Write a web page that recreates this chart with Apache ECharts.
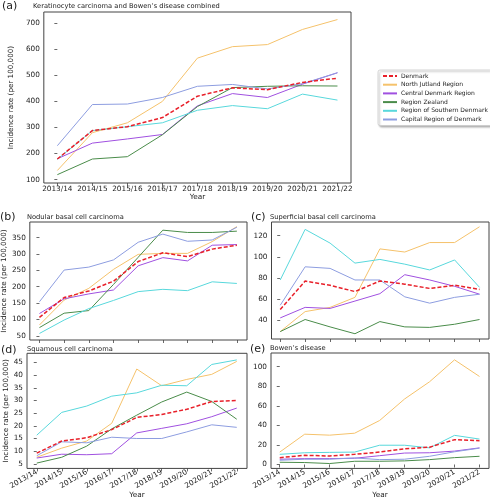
<!DOCTYPE html>
<html><head><meta charset="utf-8">
<script src="https://cdn.jsdelivr.net/npm/echarts@6/dist/echarts.min.js"></script>
<style>html,body{margin:0;padding:0;background:#fff}#c{width:490px;height:500px}</style>
</head><body><div id="c"></div>
<script>
const years = ['2013/14','2014/15','2015/16','2016/17','2017/18','2018/19','2019/20','2020/21','2021/22'];
const regions = ['Denmark','North Jutland Region','Central Denmark Region','Region Zealand','Region of Southern Denmark','Capital Region of Denmark'];
const panelTitles = ['Keratinocyte carcinoma and Bowen\u2019s disease combined','Nodular basal cell carcinoma','Superficial basal cell carcinoma','Squamous cell carcinoma','Bowen\u2019s disease'];
const panelLetters = ['(a)','(b)','(c)','(d)','(e)'];

// (a) Keratinocyte carcinoma and Bowen's disease combined
const aDenmark  = [179, 288, 303, 338, 420, 452, 445, 473, 489];
const aNorth    = [135, 280, 318, 400, 566, 610, 618, 676, 714];
const aCentral  = [180, 240, 256, 273, 383, 430, 415, 466, 510];
const aZealand  = [119, 179, 188, 272, 380, 453, 458, 460, 459];
const aSouthern = [178, 288, 303, 318, 366, 384, 372, 428, 405];
const aCapital  = [230, 388, 390, 415, 458, 465, 448, 468, 510];
const aTicks = [100, 200, 300, 400, 500, 600, 700];

// (b) Nodular basal cell carcinoma
const bDenmark  = [106, 167, 187, 217, 277, 304, 292, 315, 327];
const bNorth    = [83, 159, 195, 253, 299, 302, 302, 338, 384];
const bCentral  = [118, 163, 178, 190, 264, 289, 279, 327, 329];
const bZealand  = [75, 119, 127, 207, 290, 373, 366, 366, 370];
const bSouthern = [57, 98, 133, 158, 185, 192, 188, 215, 210];
const bCapital  = [154, 251, 260, 282, 336, 361, 339, 343, 382];
const bTicks = [50, 100, 150, 200, 250, 300, 350];

// (c) Superficial basal cell carcinoma
const cDenmark  = [50, 77, 73, 67, 77, 74, 70, 73, 69];
const cNorth    = [29, 48, 52, 61.5, 107.5, 104.5, 113.5, 113.5, 128.5];
const cCentral  = [42, 52, 51, 58, 65, 83, 78, 72, 64.5];
const cZealand  = [29, 40.5, 33.5, 27, 38.5, 33.5, 33, 36, 40.5];
const cSouthern = [78, 126, 113, 94, 97.5, 93, 87.5, 97, 71];
const cCapital  = [54, 90.5, 89, 78, 78, 62, 56, 61.5, 64.5];
const cTicks = [40, 60, 80, 100, 120];

// (d) Squamous cell carcinoma
const dDenmark  = [9.2, 14, 15.3, 18.5, 23.3, 24.5, 26.5, 29.6, 30];
const dNorth    = [7.6, 11.2, 14, 21, 42.4, 35.8, 38.3, 40.3, 45.4];
const dCentral  = [7.3, 8.8, 8.6, 9, 17.2, 19, 20.8, 23.6, 27];
const dZealand  = [5.3, 7.6, 12, 18.8, 24.2, 29.4, 33.3, 29.6, 22.6];
const dSouthern = [16.3, 25.3, 27.8, 31.7, 33, 36, 35.8, 44.2, 46];
const dCapital  = [8.2, 13.7, 13.3, 15.5, 15, 15, 17.6, 20.4, 19.4];
const dTicks = [5, 10, 15, 20, 25, 30, 35, 40, 45];

// (e) Bowen's disease
const eDenmark  = [7, 9.4, 8.7, 10.4, 12.7, 16, 17.7, 25.4, 24.4];
const eNorth    = [12.7, 31, 30, 32, 45, 67, 84.6, 107, 90];
const eCentral  = [5.4, 6, 6, 6.4, 9, 11.7, 12, 13.7, 17];
const eZealand  = [2.3, 2, 1, 3.3, 3.3, 3.7, 5, 7, 8.4];
const eSouthern = [10.4, 12, 12.4, 12.7, 19.7, 19.7, 17, 29.8, 26];
const eCapital  = [4.3, 5.4, 5.4, 6.7, 5, 5.4, 8.4, 13, 16.7];
const eTicks = [0, 20, 40, 60, 80, 100];

const panelData = [
  [aDenmark, aNorth, aCentral, aZealand, aSouthern, aCapital],
  [bDenmark, bNorth, bCentral, bZealand, bSouthern, bCapital],
  [cDenmark, cNorth, cCentral, cZealand, cSouthern, cCapital],
  [dDenmark, dNorth, dCentral, dZealand, dSouthern, dCapital],
  [eDenmark, eNorth, eCentral, eZealand, eSouthern, eCapital]
];
const panelTicks = [aTicks, bTicks, cTicks, dTicks, eTicks];

const colors = ['#e8202a', '#f5c26b', '#a050e0', '#4a8c4a', '#58d8dc', '#8d9de0'];
const FONT = 'DejaVu Sans';
const AX = '#444';

// layout of each panel
const layout = [
  {left: 33, top: 12, width: 318, height: 171, xMin: -0.386, xMax: 8.386, yMin: 87, yMax: 743, xLabels: 'flat', yName: true, xName: 10, yGap: 19, letter: [2, 1], title: [33, 2.5]},
  {left: 27, top: 222, width: 220, height: 118, xMin: -0.39, xMax: 8.41, yMin: 37, yMax: 398, xLabels: 'none', yName: true, xName: 0, yGap: 17, letter: [0, 212], title: [27, 214]},
  {left: 271.5, top: 222, width: 217.5, height: 117, xMin: -0.35, xMax: 8.38, yMin: 22, yMax: 133, xLabels: 'none', yName: false, xName: 0, yGap: 0, letter: [251, 212], title: [270, 214]},
  {left: 27, top: 353.3, width: 220, height: 118.2, xMin: -0.39, xMax: 8.41, yMin: 3.2, yMax: 48.6, xLabels: 'rot', yName: true, xName: 22, yGap: 17, letter: [1, 344.5], title: [27, 345.5]},
  {left: 271, top: 353, width: 218, height: 118, xMin: -0.35, xMax: 8.38, yMin: -4, yMax: 114, xLabels: 'rot', yName: false, xName: 22, yGap: 0, letter: [250, 343.5], title: [270, 345]}
];

const idx = years.map((y, i) => i);
const grids = [], xAxes = [], yAxes = [], series = [], titles = [];
layout.forEach((L, p) => {
  grids.push({left: L.left, top: L.top, width: L.width, height: L.height, show: true,
    borderColor: AX, borderWidth: 1, backgroundColor: 'transparent', containLabel: false});
  xAxes.push({
    type: 'value', gridIndex: p, min: L.xMin, max: L.xMax,
    name: L.xName ? 'Year' : '', nameLocation: 'middle', nameGap: L.xName,
    nameTextStyle: {fontFamily: FONT, fontSize: 7.3, color: '#222'},
    axisLine: {show: false}, splitLine: {show: false},
    axisTick: {show: true, length: 3, lineStyle: {color: AX, width: 0.8}, customValues: idx},
    axisLabel: {
      show: L.xLabels !== 'none', customValues: idx,
      formatter: v => years[Math.round(v)] || '',
      rotate: L.xLabels === 'rot' ? 30 : 0, margin: 3,
      fontFamily: FONT, fontSize: 7.3, color: '#222'
    }
  });
  yAxes.push({
    type: 'value', gridIndex: p, min: L.yMin, max: L.yMax,
    name: L.yName ? 'Incidence rate (per 100,000)' : '', nameLocation: 'middle', nameGap: L.yGap,
    nameTextStyle: {fontFamily: FONT, fontSize: 7.2, color: '#222'},
    axisLine: {show: false}, splitLine: {show: false},
    axisTick: {show: true, length: 3, lineStyle: {color: AX, width: 0.8}, customValues: panelTicks[p]},
    axisLabel: {customValues: panelTicks[p], margin: 4, fontFamily: FONT, fontSize: 7.3, color: '#222'}
  });
  panelData[p].forEach((vals, r) => {
    series.push({
      type: 'line', name: regions[r], xAxisIndex: p, yAxisIndex: p,
      data: vals.map((v, i) => [i, v]),
      symbol: 'none', showSymbol: false, silent: true,
      z: r === 0 ? 5 : 2,
      lineStyle: {color: colors[r], width: r === 0 ? 1.5 : 1, type: r === 0 ? [4, 2] : 'solid'},
      itemStyle: {color: colors[r]}
    });
  });
  titles.push({text: panelLetters[p], left: L.letter[0], top: L.letter[1], padding: 0,
    textStyle: {fontFamily: FONT, fontSize: 11, fontWeight: 'normal', color: '#222'}});
  titles.push({text: panelTitles[p], left: L.title[0], top: L.title[1], padding: 0,
    textStyle: {fontFamily: FONT, fontSize: 6.7, fontWeight: 'normal', color: '#222'}});
});

const chart = echarts.init(document.getElementById('c'), null, {renderer: 'canvas'});
chart.setOption({
  animation: false,
  title: titles,
  grid: grids, xAxis: xAxes, yAxis: yAxes, series: series,
  legend: {
    data: regions, orient: 'vertical', left: 378, top: 70,
    itemWidth: 14, itemHeight: 6, itemGap: 2.7,
    padding: [3, 4, 3, 4],
    itemStyle: {opacity: 0},
    backgroundColor: '#fff', borderColor: '#ccc', borderWidth: 0.8, borderRadius: 2,
    shadowColor: 'rgba(0,0,0,0.3)', shadowBlur: 2, shadowOffsetX: 1.5, shadowOffsetY: 1.5,
    textStyle: {fontFamily: FONT, fontSize: 6, color: '#222', padding: [0, 0, 0, -1]},
    selectedMode: false
  }
});
</script>
</body></html>
